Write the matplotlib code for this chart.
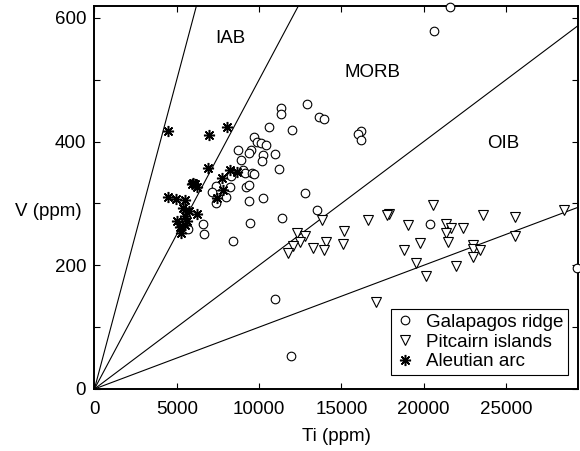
import matplotlib
matplotlib.use("Agg")
import matplotlib.pyplot as plt
import numpy as np
from matplotlib.ticker import FixedLocator, FuncFormatter

plt.rcParams['font.family'] = ['Liberation Sans', 'DejaVu Sans']

# Galapagos ridge (Ti ppm, V ppm)
gal_ti = [21600, 20600, 11340, 11340, 12920, 13640, 13930, 10610, 12020, 16200,
          16030, 16210, 9700, 9880, 10100, 10410, 8720, 9540, 9410, 10990,
          10260, 8890, 10200, 11230, 9050, 9150, 9560, 9700, 8280, 7390,
          8210, 9210, 9410, 7130, 8000, 7390, 9360, 10240, 12810, 13500,
          11380, 9450, 6620, 6640, 5670, 8420, 20390, 29320, 10970, 11940]
gal_v = [618, 578, 455, 444, 460, 439, 436, 423, 418, 417,
         412, 402, 407, 400, 397, 395, 387, 387, 381, 380,
         379, 370, 368, 355, 354, 350, 350, 347, 344, 328,
         326, 327, 330, 318, 311, 301, 304, 309, 317, 290,
         276, 268, 267, 251, 259, 240, 267, 196, 145, 53]

# Pitcairn islands
pit_ti = [13810, 12290, 12790, 12490, 12070, 11780, 13300, 14050, 13950, 15160,
          15120, 16600, 17900, 17790, 19020, 20550, 19780, 18820, 19520, 20140,
          21330, 21660, 21340, 21480, 22410, 21950, 23020, 23020, 23440, 23020,
          23610, 25550, 25570, 28510, 17080]
pit_v = [274, 252, 248, 237, 231, 220, 228, 238, 224, 256,
         235, 274, 283, 282, 265, 297, 236, 224, 203, 182,
         267, 260, 252, 238, 261, 199, 233, 227, 225, 214,
         281, 278, 247, 289, 141]

# Aleutian arc
ale_ti = [4470, 6980, 8070, 6870, 7730, 8240, 8680, 6010, 6110, 6210,
          5910, 7780, 7470, 4470, 4960, 5520, 5400, 5770, 6260, 5530,
          5020, 5610, 5200, 5230, 5500]
ale_v = [417, 411, 423, 358, 341, 354, 351, 333, 331, 327,
         331, 322, 309, 310, 307, 306, 293, 288, 283, 279,
         271, 272, 262, 252, 265]

# Reference lines Ti/V ratios
ratios = [10, 20, 50, 100]

field_labels = ["IAB", "MORB", "OIB"]
field_ti = [8280, 16900, 24850]
field_v = [566, 511, 397]

x_ticks = [0, 5000, 10000, 15000, 20000, 25000]
y_ticks = [0, 100, 200, 300, 400, 500, 600]
y_labeled = [0, 200, 400, 600]

xmax, ymax = 29400, 620

fig = plt.figure(figsize=(5.8, 4.51), dpi=100)
ax = fig.add_axes([0.1628, 0.1375, 0.9974 - 0.1628, 0.9878 - 0.1375])

xs = np.array([0, xmax])
for r in ratios:
    ax.plot(xs, xs / r, color='black', lw=0.8, zorder=1)

fs = 13.5
ax.plot(gal_ti, gal_v, linestyle='none', marker='o', ms=6.2, mfc='white',
        mec='black', mew=0.8, clip_on=False, label='Galapagos ridge', zorder=3)
ax.plot(pit_ti, pit_v, linestyle='none', marker='v', ms=7, mfc='white',
        mec='black', mew=0.8, clip_on=False, label='Pitcairn islands', zorder=3)
ax.plot(ale_ti, ale_v, linestyle='none', marker=(8, 2, 0), ms=8,
        mfc='black', mec='black', mew=1.1, clip_on=False, label='Aleutian arc', zorder=3)

for t, xv, yv in zip(field_labels, field_ti, field_v):
    ax.text(xv, yv, t, ha='center', va='center', fontsize=fs)

ax.set_xlim(0, xmax)
ax.set_ylim(0, ymax)
ax.xaxis.set_major_locator(FixedLocator(x_ticks))
ax.yaxis.set_major_locator(FixedLocator(y_ticks))
ax.yaxis.set_major_formatter(FuncFormatter(lambda v, p: f"{int(v)}" if int(round(v)) in y_labeled else ""))
ax.tick_params(direction='in', length=4, width=0.8, top=True, right=True,
               labelsize=fs)
ax.tick_params(axis='x', pad=9)
ax.tick_params(axis='y', pad=6)
for s in ax.spines.values():
    s.set_linewidth(1.4)

ax.set_xlabel("Ti (ppm)", fontsize=fs, va='center')
ax.xaxis.set_label_coords(0.5, -0.1226)
ax.set_ylabel("V (ppm)", fontsize=fs, rotation=0, ha='center', va='center')
ax.yaxis.set_label_coords(-0.095, 0.463)

leg = ax.legend(loc='lower right', bbox_to_anchor=(0.978, 0.036), fontsize=fs,
                frameon=True, fancybox=False, edgecolor='black', framealpha=1,
                borderaxespad=0, handlelength=1.0, handletextpad=0.6,
                borderpad=0.25, labelspacing=0.15)
leg.get_frame().set_linewidth(0.8)

fig.savefig("out.png", dpi=100)
